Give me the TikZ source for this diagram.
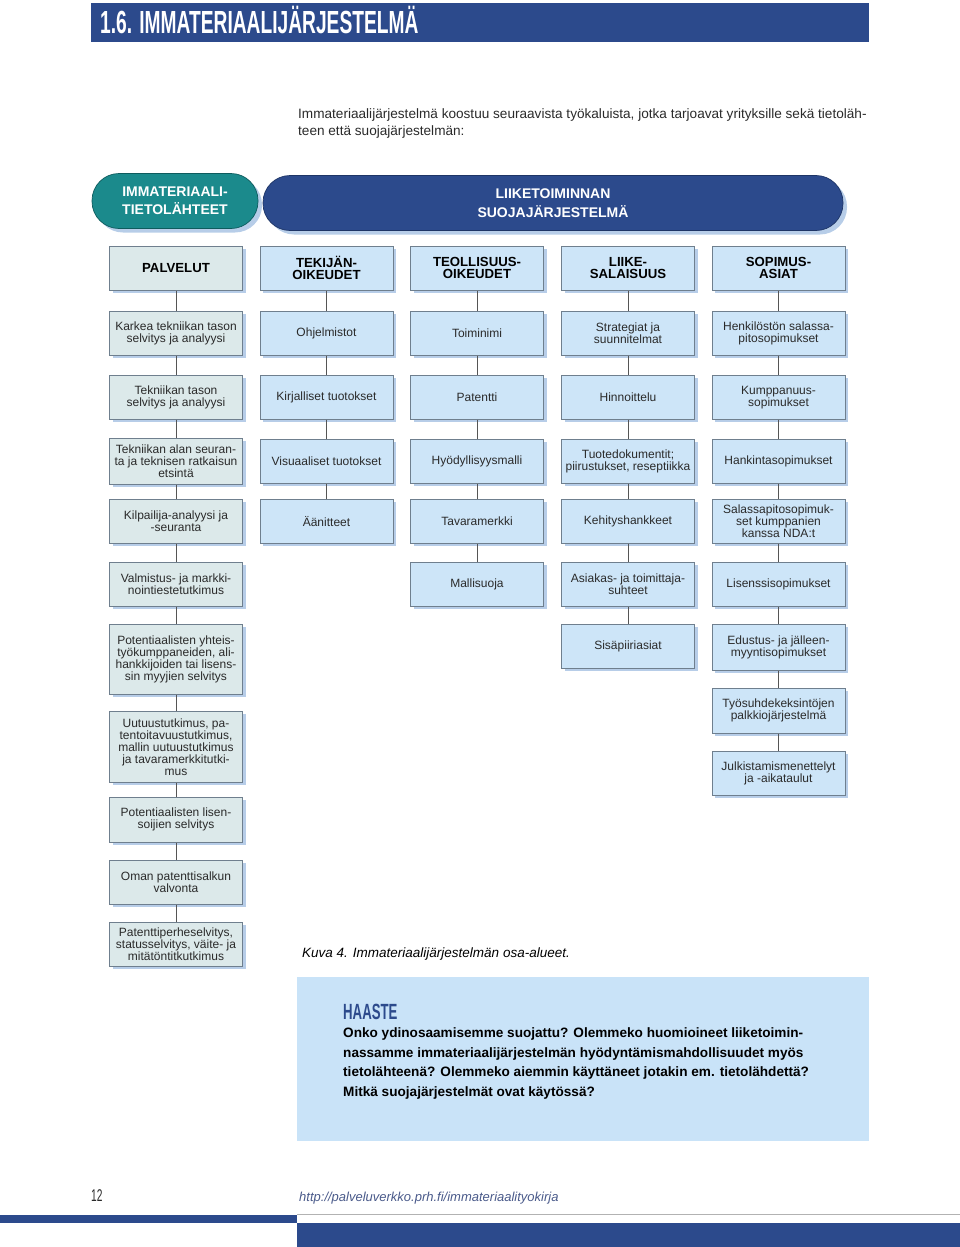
\documentclass[tikz,border=0pt]{standalone}
\usepackage{fontspec}
\setmainfont{Liberation Sans}
\newfontfamily\condfont[FakeStretch=0.6]{Liberation Sans}
\usetikzlibrary{shadows}

\definecolor{pageblue}{HTML}{2C4A8C}
\definecolor{tealpill}{HTML}{1B8A8C}
\definecolor{tealline}{HTML}{0E5C5E}
\definecolor{pillline}{HTML}{1E3566}
\definecolor{palvfill}{HTML}{DCE9EA}
\definecolor{boxfill}{HTML}{CDE5F8}
\definecolor{boxline}{HTML}{6F7F8E}
\definecolor{shadowblue}{HTML}{AFC8E6}
\definecolor{linkgray}{HTML}{555555}
\definecolor{textgray}{HTML}{2A2A2A}
\definecolor{haastefill}{HTML}{C9E3F8}
\definecolor{urlblue}{HTML}{4A5A8A}

\tikzset{
  box/.style={draw=boxline, line width=0.6pt, fill=boxfill, minimum width=133pt,
    minimum height=44pt, inner xsep=1pt, inner ysep=0pt, align=center, anchor=north,
    font=\fontsize{12}{12}\selectfont, text=textgray,
    drop shadow={shadow xshift=3pt, shadow yshift=-3pt, fill=shadowblue, opacity=0.9}},
  palvbox/.style={box, fill=palvfill},
  headbox/.style={box, font=\fontsize{13.2}{12}\selectfont\bfseries, text=black},
  pill/.style={rounded corners=27pt, line width=0.7pt, minimum height=55pt, align=center,
    text=white, font=\fontsize{14}{18.5}\selectfont\bfseries,
    drop shadow={shadow xshift=4pt, shadow yshift=-4pt, fill=shadowblue, opacity=0.9}},
  link/.style={draw=linkgray, line width=0.6pt},
}

\begin{document}
\begin{tikzpicture}[x=1pt,y=-1pt]
\useasboundingbox (0,0) rectangle (960,1247);

% title bar
\fill[pageblue] (91,3) rectangle (869,42);
\node[anchor=base west, inner sep=0pt, text=white, font=\condfont\bfseries\fontsize{32}{32}\selectfont] (title) at (100,34) {1.6. IMMATERIAALIJÄRJESTELMÄ};

% intro
\node[anchor=base west, inner sep=0pt, text=textgray, font=\fontsize{13.6}{13.6}\selectfont] (intro1) at (298,118) {Immateriaalijärjestelmä koostuu seuraavista työkaluista, jotka tarjoavat yrityksille sekä tietoläh-};
\node[anchor=base west, inner sep=0pt, text=textgray, font=\fontsize{13.6}{13.6}\selectfont] (intro2) at (298,135) {teen että suojajärjestelmän:};

% pills
\node[pill, draw=tealline, fill=tealpill, minimum width=166pt] (source) at (175,201) {IMMATERIAALI-\\TIETOLÄHTEET};
\node[pill, draw=pillline, fill=pageblue, minimum width=580pt] (protect) at (553,203) {LIIKETOIMINNAN\\SUOJAJÄRJESTELMÄ};

% column headers
\node[headbox, fill=palvfill] (h1) at (176,246) {PALVELUT};
\node[headbox] (h2) at (326.5,246) {TEKIJÄN-\\OIKEUDET};
\node[headbox] (h3) at (477,246) {TEOLLISUUS-\\OIKEUDET};
\node[headbox] (h4) at (628,246) {LIIKE-\\SALAISUUS};
\node[headbox] (h5) at (778.5,246) {SOPIMUS-\\ASIAT};

% palvelut
\node[palvbox] (p1) at (176,311) {Karkea tekniikan tason\\selvitys ja analyysi};
\node[palvbox] (p2) at (176,375) {Tekniikan tason\\selvitys ja analyysi};
\node[palvbox, minimum height=46pt] (p3) at (176,438) {Tekniikan alan seuran-\\ta ja teknisen ratkaisun\\etsintä};
\node[palvbox] (p4) at (176,499) {Kilpailija-analyysi ja\\-seuranta};
\node[palvbox] (p5) at (176,562) {Valmistus- ja markki-\\nointiestetutkimus};
\node[palvbox, minimum height=70pt] (p6) at (176,624) {Potentiaalisten yhteis-\\työkumppaneiden, ali-\\hankkijoiden tai lisens-\\sin myyjien selvitys};
\node[palvbox, minimum height=71pt] (p7) at (176,711) {Uutuustutkimus, pa-\\tentoitavuustutkimus,\\mallin uutuustutkimus\\ja tavaramerkkitutki-\\mus};
\node[palvbox, minimum height=45pt] (p8) at (176,797) {Potentiaalisten lisen-\\soijien selvitys};
\node[palvbox] (p9) at (176,860) {Oman patenttisalkun\\valvonta};
\node[palvbox] (p10) at (176,922) {Patenttiperheselvitys,\\statusselvitys, väite- ja\\mitätöntitkutkimus};

% tekijanoikeudet
\node[box] (t1) at (326.5,311) {Ohjelmistot};
\node[box] (t2) at (326.5,375) {Kirjalliset tuotokset};
\node[box] (t3) at (326.5,439) {Visuaaliset tuotokset};
\node[box] (t4) at (326.5,499) {Äänitteet};

% teollisuusoikeudet
\node[box] (i1) at (477,311) {Toiminimi};
\node[box] (i2) at (477,375) {Patentti};
\node[box] (i3) at (477,439) {Hyödyllisyysmalli};
\node[box] (i4) at (477,499) {Tavaramerkki};
\node[box] (i5) at (477,562) {Mallisuoja};

% liikesalaisuus
\node[box] (l1) at (628,311) {Strategiat ja\\suunnitelmat};
\node[box] (l2) at (628,375) {Hinnoittelu};
\node[box] (l3) at (628,439) {Tuotedokumentit;\\piirustukset, reseptiikka};
\node[box] (l4) at (628,499) {Kehityshankkeet};
\node[box] (l5) at (628,562) {Asiakas- ja toimittaja-\\suhteet};
\node[box] (l6) at (628,624) {Sisäpiiriasiat};

% sopimusasiat
\node[box] (s1) at (778.5,311) {Henkilöstön salassa-\\pitosopimukset};
\node[box] (s2) at (778.5,375) {Kumppanuus-\\sopimukset};
\node[box] (s3) at (778.5,439) {Hankintasopimukset};
\node[box] (s4) at (778.5,499) {Salassapitosopimuk-\\set kumppanien\\kanssa NDA:t};
\node[box] (s5) at (778.5,562) {Lisenssisopimukset};
\node[box, minimum height=46pt] (s6) at (778.5,624) {Edustus- ja jälleen-\\myyntisopimukset};
\node[box, minimum height=45pt] (s7) at (778.5,688) {Työsuhdekeksintöjen\\palkkiojärjestelmä};
\node[box] (s8) at (778.5,751) {Julkistamismenettelyt\\ja -aikataulut};

% connectors
\foreach \a/\b in {h1/p1,p1/p2,p2/p3,p3/p4,p4/p5,p5/p6,p6/p7,p7/p8,p8/p9,p9/p10,
                   h2/t1,t1/t2,t2/t3,t3/t4,
                   h3/i1,i1/i2,i2/i3,i3/i4,i4/i5,
                   h4/l1,l1/l2,l2/l3,l3/l4,l4/l5,l5/l6,
                   h5/s1,s1/s2,s2/s3,s3/s4,s4/s5,s5/s6,s6/s7,s7/s8}
  \draw[link] (\a) -- (\b);

% caption
\node[anchor=base west, inner sep=0pt, text=black, font=\itshape\fontsize{13.5}{13.5}\selectfont] (caption) at (302,957) {Kuva 4. Immateriaalijärjestelmän osa-alueet.};

% haaste
\fill[haastefill] (297,977) rectangle (869,1141);
\node[anchor=base west, inner sep=0pt, text=pageblue, font=\condfont\bfseries\fontsize{22}{22}\selectfont] (haaste) at (343,1019) {HAASTE};
\node[anchor=base west, inner sep=0pt, font=\bfseries\fontsize{13.6}{13.6}\selectfont] (hq1) at (343,1037) {Onko ydinosaamisemme suojattu? Olemmeko huomioineet liiketoimin-};
\node[anchor=base west, inner sep=0pt, font=\bfseries\fontsize{13.6}{13.6}\selectfont] (hq2) at (343,1057) {nassamme immateriaalijärjestelmän hyödyntämismahdollisuudet myös};
\node[anchor=base west, inner sep=0pt, font=\bfseries\fontsize{13.6}{13.6}\selectfont] (hq3) at (343,1076) {tietolähteenä? Olemmeko aiemmin käyttäneet jotakin em. tietolähdettä?};
\node[anchor=base west, inner sep=0pt, font=\bfseries\fontsize{13.6}{13.6}\selectfont] (hq4) at (343,1096) {Mitkä suojajärjestelmät ovat käytössä?};

% footer
\node[anchor=base west, inner sep=0pt, text=textgray, font=\condfont\fontsize{17}{17}\selectfont] (pagenum) at (91,1201) {12};
\node[anchor=base west, inner sep=0pt, text=urlblue, font=\itshape\fontsize{13}{13}\selectfont] (url) at (299,1201) {http://palveluverkko.prh.fi/immateriaalityokirja};
\draw[gray!60, line width=1pt] (297,1214) -- (960,1214);
\fill[pageblue] (0,1215) rectangle (297,1223);
\fill[pageblue] (297,1223) rectangle (960,1247);
\end{tikzpicture}
\end{document}
